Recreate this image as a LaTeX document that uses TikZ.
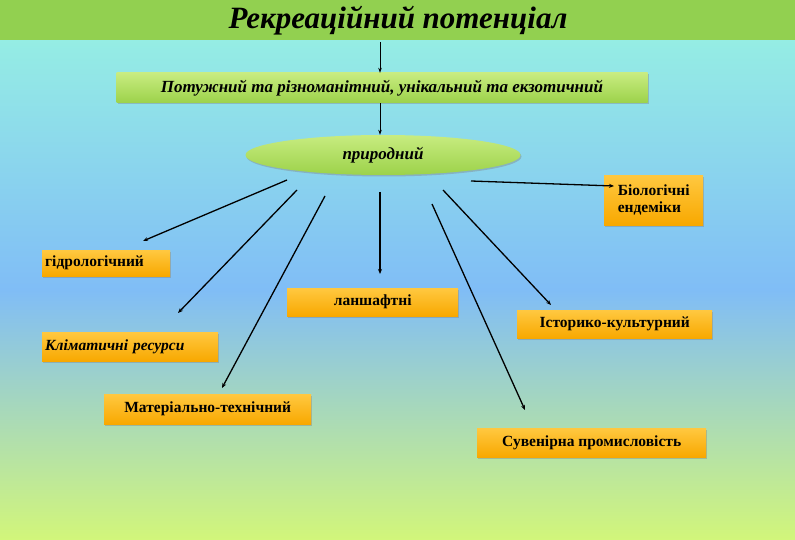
\documentclass[tikz,border=0pt]{standalone}
\usepackage{fontspec}
\setmainfont{Liberation Serif}
\usetikzlibrary{shapes.geometric,arrows.meta,shadows}
\definecolor{bgtop}{HTML}{95EDE4}
\definecolor{bgmid}{HTML}{80BDF6}
\definecolor{bgbot}{HTML}{D2F67A}
\definecolor{bar}{HTML}{92D050}
\definecolor{org}{HTML}{F8A800}
\definecolor{orgl}{HTML}{FFC840}
\definecolor{grn}{HTML}{9CD24A}
\definecolor{grnl}{HTML}{C8EC80}
\tikzset{
  obox/.style={draw=none, top color=orgl, bottom color=org, drop shadow={opacity=0.4,shadow xshift=1pt,shadow yshift=-1.5pt}, inner sep=2pt, font=\bfseries\fontsize{15.5}{17}\selectfont, anchor=north west},
  gbox/.style={draw=none, top color=grnl, bottom color=grn, drop shadow={opacity=0.4,shadow xshift=1pt,shadow yshift=-1.5pt}, font=\bfseries\itshape\fontsize{17}{18}\selectfont},
  arr/.style={-{Stealth[length=5pt,width=4pt]}, line width=1.3pt},
  thin arr/.style={-{Stealth[length=5pt,width=3.5pt]}, line width=0.7pt}
}
\begin{document}
\begin{tikzpicture}[x=1pt,y=-1pt]
\useasboundingbox (0,0) rectangle (795,540);
\shade[top color=bgtop, bottom color=bgmid] (0,40) rectangle (795,290);
\shade[top color=bgmid, bottom color=bgbot] (0,290) rectangle (795,540);
\fill[bar] (0,0) rectangle (795,40);
\node (title) at (398,21) {\bfseries\itshape\fontsize{31}{32}\selectfont Рекреаційний потенціал};
\node[gbox, minimum width=531pt, minimum height=30pt] (b1) at (382,88) {Потужний та різноманітний, унікальний та екзотичний};
\node[gbox, ellipse, minimum width=275pt, minimum height=40pt] (el) at (383,155) {природний};
\coordinate (t0) at (380,42);
\draw[thin arr] (t0) -- (b1.north -| t0);
\draw[thin arr] (b1.south -| t0) -- (el.north -| t0);

\node[obox, minimum width=99pt, minimum height=50pt, align=left, inner xsep=4pt] (bio) at (604,175) {Біологічні\\ендеміки};
\node[obox, minimum width=128pt, minimum height=26pt, text width=122pt, align=left] (hyd) at (42,250) {гідрологічний};
\node[obox, minimum width=171pt, minimum height=28pt, text width=150pt, align=center] (lan) at (287,288) {ланшафтні\vphantom{Ij}};
\node[obox, minimum width=195pt, minimum height=28pt] (ist) at (517,310) {Історико-культурний};
\node[obox, minimum width=176pt, minimum height=29pt, text width=170pt, align=left, font=\bfseries\itshape\fontsize{15.5}{17}\selectfont] (kli) at (42,332) {Кліматичні ресурси};
\node[obox, minimum width=207pt, minimum height=30pt] (mat) at (104,394) {Матеріально-технічний};
\node[obox, minimum width=229pt, minimum height=29pt] (suv) at (477,428) {Сувенірна промисловість};

\coordinate (s1) at (287,180); \coordinate (e1) at (143,241);
\coordinate (s2) at (297,190); \coordinate (e2) at (178,313);
\coordinate (s3) at (325,196); \coordinate (e3) at (222,388);
\coordinate (s4) at (380,192); \coordinate (e4) at (380,274);
\coordinate (s5) at (432,204); \coordinate (e5) at (525,410);
\coordinate (s6) at (443,190); \coordinate (e6) at (551,305);
\coordinate (s7) at (471,181); \coordinate (e7) at (614,186);
\foreach \i in {1,...,7} \draw[arr] (s\i) -- (e\i);
\end{tikzpicture}
\end{document}
